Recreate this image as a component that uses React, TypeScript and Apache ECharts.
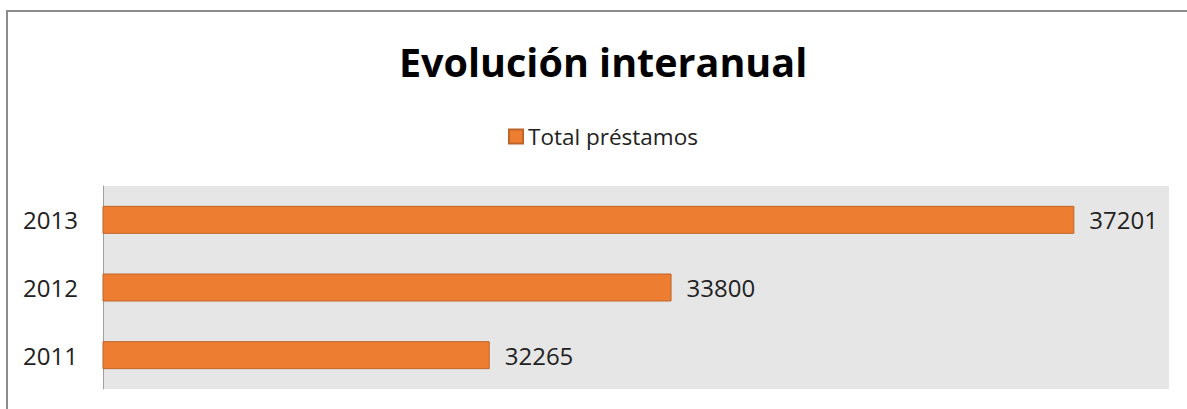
import React, { useEffect, useRef } from "react";
import * as echarts from "echarts";

const categories = ["2011", "2012", "2013"];
const values = [32265, 33800, 37201];
const seriesName = "Total préstamos";
const titleText = "Evolución interanual";

export default function App() {
  const ref = useRef<HTMLDivElement>(null);
  useEffect(() => {
    if (!ref.current) return;
    const chart = echarts.init(ref.current, undefined, { renderer: "svg" });
    const font = "'Open Sans', sans-serif";
    chart.setOption({
      animation: false,
      backgroundColor: "#ffffff",
      title: {
        text: titleText,
        left: 394,
        top: 37,
        textStyle: { fontFamily: font, fontWeight: "bold", fontSize: 39.5, color: "#000" },
      },
      legend: {
        data: [seriesName],
        top: 120,
        left: 503,
        itemWidth: 14,
        itemHeight: 14,
        itemGap: 9,
        icon: "rect",
        textStyle: { fontFamily: font, fontSize: 22.5, color: "#222" },
      },
      graphic: [
        {
          type: "rect",
          shape: { x: 7, y: 11, width: 1200, height: 420 },
          style: { fill: "none", stroke: "#8c8c8c", lineWidth: 2 },
          silent: true,
        },
      ],
      grid: {
        left: 103,
        top: 186,
        width: 1066,
        height: 203,
        show: true,
        backgroundColor: "#e6e6e6",
        borderWidth: 0,
        containLabel: false,
      },
      xAxis: {
        type: "value",
        min: 29000,
        max: 38000,
        show: false,
        splitLine: { show: false },
      },
      yAxis: {
        type: "category",
        data: categories,
        axisLine: { show: true, lineStyle: { color: "#a0a0a0", width: 1 } },
        axisTick: { show: false },
        axisLabel: { fontFamily: font, fontSize: 24, color: "#222", margin: 25 },
      },
      series: [
        {
          name: seriesName,
          type: "bar",
          data: values,
          barWidth: 28,
          itemStyle: { color: "#ED7D31", borderColor: "#c0652a", borderWidth: 1 },
          label: {
            show: true,
            position: "right",
            distance: 15,
            fontFamily: font,
            fontSize: 24,
            color: "#222",
          },
        },
      ],
    });
    return () => chart.dispose();
  }, []);
  return (
    <div
      ref={ref}
      style={{ position: "absolute", left: 0, top: 0, width: 1187, height: 409 }}
    />
  );
}
